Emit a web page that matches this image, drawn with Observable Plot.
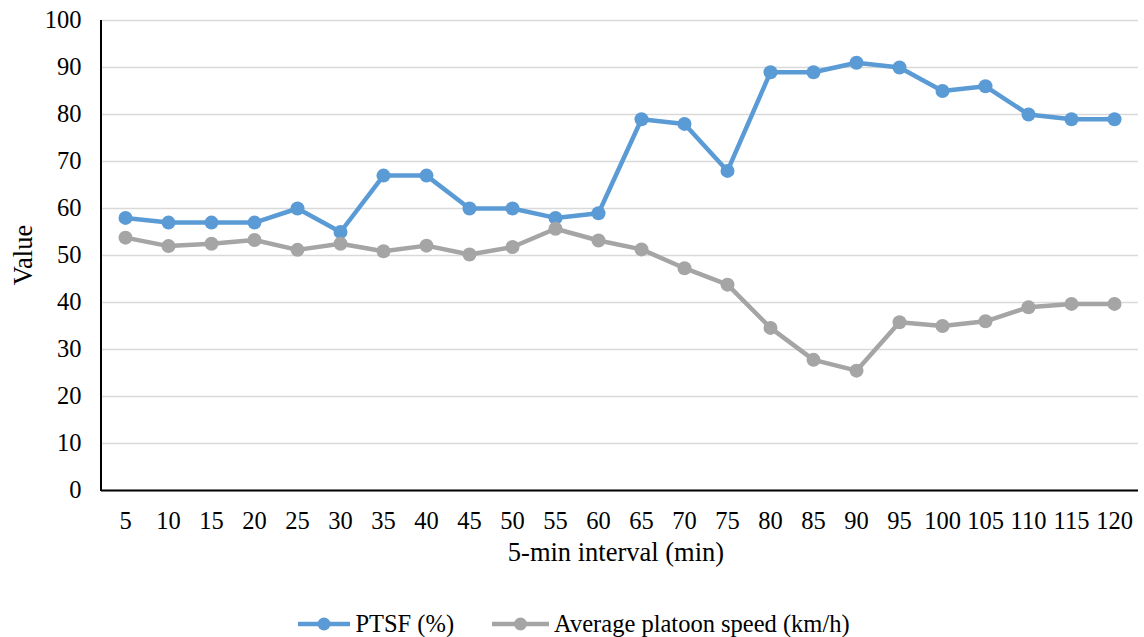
<!DOCTYPE html>
<html>
<head>
<meta charset="utf-8">
<script src="https://cdn.jsdelivr.net/npm/d3@7"></script>
<script src="https://cdn.jsdelivr.net/npm/@observablehq/plot@0.6"></script>
<style>
  html, body { margin: 0; padding: 0; background: #fff; }
  #chart { width: 1144px; height: 600px; }
  #legend { display: flex; justify-content: center; align-items: center; height: 48px;
    font-family: 'Liberation Serif'; font-size: 24.5px; color: #000; padding-left: 4px; }
  .item { display: flex; align-items: center; }
  .item + .item { margin-left: 38px; }
  .item svg { margin-right: 5px; }
</style>
</head>
<body>
<div id="chart"></div>
<div id="legend"></div>
<script>
const intervals = [5,10,15,20,25,30,35,40,45,50,55,60,65,70,75,80,85,90,95,100,105,110,115,120];
const ptsf = [58,57,57,57,60,55,67,67,60,60,58,59,79,78,68,89,89,91,90,85,86,80,79,79];
const speed = [53.8,52.0,52.5,53.3,51.2,52.5,50.9,52.1,50.2,51.8,55.7,53.2,51.3,47.3,43.8,34.6,27.8,25.5,35.8,35.0,36.0,39.0,39.7,39.7];
const yTicks = [0,10,20,30,40,50,60,70,80,90,100];
const seriesNames = ["PTSF (%)", "Average platoon speed (km/h)"];
const seriesColors = ["#5b9bd5", "#a5a5a5"];
const xTitle = "5-min interval (min)";
const yTitle = "Value";

const data = [];
intervals.forEach((t, i) => {
  data.push({t, v: ptsf[i], s: seriesNames[0]});
  data.push({t, v: speed[i], s: seriesNames[1]});
});

const W = 1144, H = 600, mL = 101, mR = 6, mT = 20, mB = 110;
const FONT = "Liberation Serif";

const chart = Plot.plot({
  width: W, height: H,
  marginLeft: mL, marginRight: mR, marginTop: mT, marginBottom: mB,
  style: {fontFamily: FONT, fontSize: "24.5px", color: "#000", background: "#fff"},
  x: {type: "point", domain: intervals, padding: 0.5, label: null},
  y: {domain: [0, 100], label: null},
  color: {domain: seriesNames, range: seriesColors},
  marks: [
    Plot.gridY(yTicks, {stroke: "#d9d9d9", strokeOpacity: 1, strokeWidth: 1.5}),
    Plot.axisY(yTicks, {tickSize: 0, tickPadding: 20, label: null, fontSize: 24.5}),
    Plot.axisX(intervals, {tickSize: 0, tickPadding: 21, label: null, fontSize: 24.5}),
    Plot.ruleY([0], {stroke: "#000", strokeWidth: 2}),
    Plot.line(data, {x: "t", y: "v", stroke: "s", z: "s", strokeWidth: 4.5, curve: "linear"}),
    Plot.dot(data, {x: "t", y: "v", fill: "s", r: 7})
  ]
});

const svg = d3.select(chart);
// left axis line
svg.append("line").attr("x1", mL).attr("x2", mL).attr("y1", mT).attr("y2", H - mB + 1)
  .attr("stroke", "#000").attr("stroke-width", 2);
// axis titles
svg.append("text").attr("transform", `translate(32,255) rotate(-90)`)
  .attr("text-anchor", "middle")
  .attr("font-size", 26.5).text(yTitle);
svg.append("text").attr("x", 616).attr("y", 561)
  .attr("text-anchor", "middle")
  .attr("font-size", 26.5).text(xTitle);
svg.selectAll("text").style("font-family", FONT).attr("fill", "#000");
svg.selectAll("g[aria-label='y-axis tick label'] text, g[aria-label='x-axis tick label'] text")
  .style("font-size", "24.5px");

document.getElementById("chart").appendChild(chart);

const legend = d3.select("#legend");
seriesNames.forEach((name, i) => {
  const item = legend.append("div").attr("class", "item");
  const w = i === 0 ? 52 : 57;
  const s = item.append("svg").attr("width", w).attr("height", 16);
  s.append("line").attr("x1", 0).attr("x2", w).attr("y1", 8).attr("y2", 8)
    .attr("stroke", seriesColors[i]).attr("stroke-width", 4.5);
  s.append("circle").attr("cx", w / 2).attr("cy", 8).attr("r", 6.5).attr("fill", seriesColors[i]);
  item.append("span").text(name);
});
</script>
</body>
</html>
